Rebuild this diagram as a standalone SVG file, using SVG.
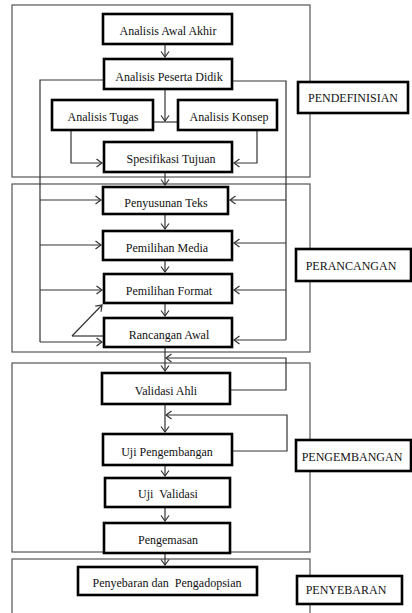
<svg xmlns="http://www.w3.org/2000/svg" width="412" height="613" viewBox="0 0 412 613">
<defs>
<marker id="a" markerWidth="10" markerHeight="10" refX="7" refY="5" orient="auto" markerUnits="userSpaceOnUse">
<path d="M1.5,1 L7,5 L1.5,9" fill="none" stroke="#333" stroke-width="1.2"/>
</marker>
<style>
.ph{fill:none;stroke:#555;stroke-width:1.2}
.c{fill:none;stroke:#333;stroke-width:1.2}
.ca{fill:none;stroke:#333;stroke-width:1.2;marker-end:url(#a)}
.n{fill:#fff;stroke:#000;stroke-width:2.6}
text{font-family:'Liberation Serif','Times New Roman',serif;font-size:12px;fill:#111;text-anchor:middle;white-space:pre}
</style>
</defs>
<rect width="412" height="613" fill="#fff"/>
<g id="phases">
<rect class="ph" x="12" y="5" width="298" height="172"/>
<rect class="ph" x="12" y="184" width="298" height="168"/>
<rect class="ph" x="12" y="363" width="298" height="189"/>
<rect class="ph" x="12" y="559" width="298" height="70"/>
</g>
<g id="connectors">
<line class="ca" x1="165" y1="44" x2="165" y2="57"/>
<line class="ca" x1="165" y1="89" x2="165" y2="121"/>
<line class="c" x1="153" y1="122" x2="178" y2="122"/>
<polyline class="ca" points="71,130 71,163 102,163"/>
<polyline class="ca" points="257,130 257,163 234,163"/>
<line class="ca" x1="165" y1="172" x2="165" y2="185"/>
<line class="ca" x1="165" y1="214" x2="165" y2="229"/>
<line class="ca" x1="165" y1="260" x2="165" y2="272"/>
<line class="ca" x1="165" y1="303" x2="165" y2="316"/>
<line class="ca" x1="165" y1="347" x2="165" y2="371"/>
<line class="ca" x1="165" y1="404" x2="165" y2="432"/>
<line class="ca" x1="165" y1="465" x2="165" y2="476"/>
<line class="ca" x1="165" y1="507" x2="165" y2="521"/>
<line class="ca" x1="165" y1="553" x2="165" y2="565"/>
<polyline class="c" points="104,80 40,80 40,342"/>
<line class="ca" x1="40" y1="200" x2="101" y2="200"/>
<line class="ca" x1="40" y1="245" x2="101" y2="245"/>
<line class="ca" x1="40" y1="290" x2="102" y2="290"/>
<line class="ca" x1="40" y1="342" x2="102" y2="342"/>
<line class="ca" x1="72" y1="336" x2="102" y2="305"/>
<line class="c" x1="72" y1="336" x2="104" y2="336"/>
<polyline class="c" points="232,81 286,81 286,340"/>
<line class="ca" x1="286" y1="200" x2="230" y2="200"/>
<line class="ca" x1="286" y1="243" x2="234" y2="243"/>
<line class="ca" x1="286" y1="290" x2="234" y2="290"/>
<line class="ca" x1="286" y1="340" x2="234" y2="340"/>
<polyline class="ca" points="230,390 286,390 286,358 166,358"/>
<polyline class="ca" points="232,451 287,451 287,415 166,415"/>
</g>
<g id="awal"><rect class="n" x="103" y="14" width="129" height="30"/><text x="168" y="35">Analisis Awal Akhir</text></g>
<g id="peserta"><rect class="n" x="104" y="59" width="128" height="30"/><text x="169" y="81">Analisis Peserta Didik</text></g>
<g id="tugas"><rect class="n" x="52" y="100" width="101" height="30"/><text x="103" y="121">Analisis Tugas</text></g>
<g id="konsep"><rect class="n" x="178" y="100" width="99" height="30"/><text x="229" y="121">Analisis Konsep</text></g>
<g id="spesifikasi"><rect class="n" x="104" y="142" width="128" height="30"/><text x="171" y="163">Spesifikasi Tujuan</text></g>
<g id="penyusunan"><rect class="n" x="103" y="187" width="125" height="27"/><text x="166" y="207">Penyusunan Teks</text></g>
<g id="media"><rect class="n" x="103" y="231" width="129" height="29"/><text x="167" y="252">Pemilihan Media</text></g>
<g id="format"><rect class="n" x="104" y="274" width="128" height="29"/><text x="169" y="295">Pemilihan Format</text></g>
<g id="rancangan"><rect class="n" x="104" y="318" width="128" height="29"/><text x="169" y="339">Rancangan Awal</text></g>
<g id="validasi"><rect class="n" x="102" y="373" width="128" height="31"/><text x="166" y="395">Validasi Ahli</text></g>
<g id="ujipengembangan"><rect class="n" x="103" y="434" width="129" height="31"/><text x="167" y="456">Uji Pengembangan</text></g>
<g id="ujivalidasi"><rect class="n" x="105" y="478" width="125" height="29"/><text x="168" y="498">Uji  Validasi</text></g>
<g id="pengemasan"><rect class="n" x="104" y="523" width="126" height="30"/><text x="168" y="544">Pengemasan</text></g>
<g id="penyebaran"><rect class="n" x="78" y="567" width="179" height="28"/><text x="167" y="587">Penyebaran dan  Pengadopsian</text></g>
<g id="lbl-pendefinisian"><rect class="n" x="298" y="82" width="110" height="31"/><text x="353" y="102">PENDEFINISIAN</text></g>
<g id="lbl-perancangan"><rect class="n" x="296" y="249" width="115" height="32"/><text x="351" y="270">PERANCANGAN</text></g>
<g id="lbl-pengembangan"><rect class="n" x="296" y="440" width="115" height="31"/><text x="352" y="461">PENGEMBANGAN</text></g>
<g id="lbl-penyebaran"><rect class="n" x="297" y="576" width="105" height="28"/><text x="346" y="594">PENYEBARAN</text></g>
</svg>
